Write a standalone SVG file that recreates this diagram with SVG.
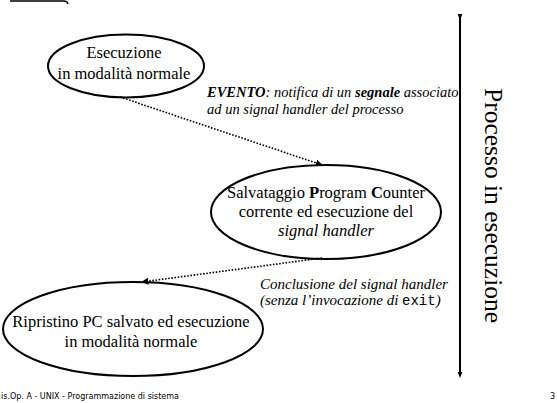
<svg xmlns="http://www.w3.org/2000/svg" width="557" height="403" viewBox="0 0 557 403">
<style>
.ell{fill:none;stroke:#000;stroke-width:2}
.t{font-family:"Liberation Serif","Times New Roman",serif;font-size:16.5px;fill:#000;text-anchor:middle}
.lbl{font-family:"Liberation Serif","Times New Roman",serif;font-size:14.5px;font-style:italic;fill:#000}
.lbl2{font-family:"Liberation Serif","Times New Roman",serif;font-size:15px;font-style:italic;fill:#000}
.dot{fill:none;stroke:#000;stroke-width:1.6;stroke-dasharray:1.6 1.6}
.mono{font-family:"Liberation Mono","Courier New",monospace;font-style:normal;font-size:14px}
.foot{font-family:"DejaVu Sans","Liberation Sans",sans-serif;font-size:8px;fill:#000}
</style>
<defs>
<marker id="ah" viewBox="0 0 10 10" refX="9" refY="5" markerWidth="7" markerHeight="7" markerUnits="userSpaceOnUse" orient="auto">
<path d="M0,0 L10,5 L0,10 z" fill="#000"/>
</marker>
<marker id="vend" viewBox="0 0 10 10" refX="5" refY="5" markerWidth="6" markerHeight="6" markerUnits="userSpaceOnUse" orient="auto">
<path d="M0,1 L10,5 L0,9 z" fill="#000"/>
</marker>
</defs>
<rect width="557" height="403" fill="#fff"/>
<path d="M10,1 H64 Q67,1 68,4" fill="none" stroke="#000" stroke-width="1.5"/>
<g id="connectors">
<line class="dot" x1="120" y1="97" x2="322" y2="165" marker-end="url(#ah)"/>
<line class="dot" x1="322" y1="258" x2="142" y2="282" marker-end="url(#ah)"/>
<line x1="460" y1="17" x2="460" y2="375" stroke="#000" stroke-width="2" marker-start="url(#vend)" marker-end="url(#vend)"/>
</g>
<g id="n1">
<ellipse class="ell" cx="126" cy="66" rx="78" ry="31.5"/>
<text class="t" x="124" y="58">Esecuzione</text>
<text class="t" x="124" y="79">in modalità normale</text>
</g>
<g id="n2">
<ellipse class="ell" cx="326" cy="212" rx="115" ry="47"/>
<text class="t" x="326" y="198">Salvataggio <tspan font-weight="bold">P</tspan>rogram <tspan font-weight="bold">C</tspan>ounter</text>
<text class="t" x="326" y="217">corrente ed esecuzione del</text>
<text class="t" x="326" y="236" font-style="italic">signal handler</text>
</g>
<g id="n3">
<ellipse class="ell" cx="133" cy="329" rx="130" ry="47"/>
<text class="t" x="131" y="327">Ripristino PC salvato ed esecuzione</text>
<text class="t" x="131" y="347">in modalità normale</text>
</g>
<g id="lbl-evento">
<text class="lbl" x="207" y="97"><tspan font-weight="bold">EVENTO</tspan>: notifica di un <tspan font-weight="bold">segnale</tspan> associato</text>
<text class="lbl" x="207" y="114">ad un signal handler del processo</text>
</g>
<g id="lbl-concl">
<text class="lbl2" x="260" y="289">Conclusione del signal handler</text>
<text class="lbl2" x="260" y="305">(senza l’invocazione di <tspan class="mono">exit</tspan>)</text>
</g>
<g id="proc">
<text transform="translate(485,88) rotate(90)" font-family="'Liberation Serif','Times New Roman',serif" font-size="25.5" fill="#000">Processo in esecuzione</text>
</g>
<text class="foot" x="1" y="399">is.Op. A - UNIX - Programmazione di sistema</text>
<text class="foot" x="550" y="399">3</text>
</svg>
